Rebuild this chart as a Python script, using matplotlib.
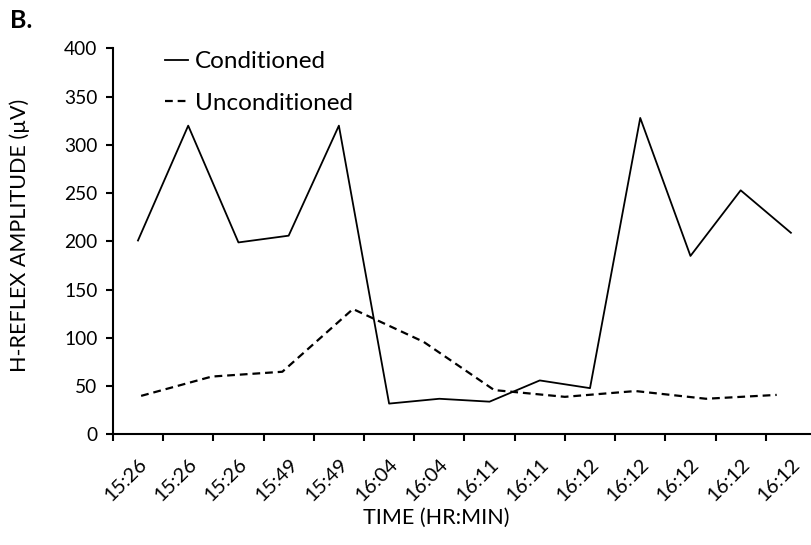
import matplotlib.pyplot as plt
import numpy as np

plt.rcParams['font.family'] = ['Lato', 'DejaVu Sans']

time_labels = ['15:26', '15:26', '15:26', '15:49', '15:49', '16:04', '16:04',
               '16:11', '16:11', '16:12', '16:12', '16:12', '16:12', '16:12']
conditioned = [201, 320, 199, 206, 320, 32, 37, 34, 56, 48, 328, 185, 253, 209]
unconditioned = [40, 60, 65, 130, 96, 46, 39, 45, 37, 41]

fig = plt.figure(figsize=(8.12, 5.45), dpi=100)
ax = fig.add_axes([0.139, 0.2028, 0.861, 0.7083])

x_cond = np.arange(len(conditioned))
line_c, = ax.plot(x_cond, conditioned, '-', color='black', lw=1.3,
                  label='Conditioned')

# second series sits on its own (hidden) category axis
ax2 = ax.twiny()
x_unc = np.arange(len(unconditioned))
line_u, = ax2.plot(x_unc, unconditioned, color='black', lw=1.6,
                   linestyle=(0, (3.5, 2.2)), label='Unconditioned')
ax2.set_xlim(-0.4, 9.5)
ax2.axis('off')

ax.set_xlim(-0.5, len(conditioned) - 0.58)
ax.set_ylim(0, 400)
ax.set_yticks(np.arange(0, 401, 50))
ax.set_xticks(np.arange(-0.5, len(conditioned) - 0.5, 1.0))
ax.set_xticklabels([])
ax.set_xticks(x_cond, minor=True)
ax.set_xticklabels(time_labels, minor=True, rotation=45, ha='right',
                   va='top', rotation_mode='anchor', fontsize=14.5)
ax.tick_params(axis='x', which='minor', length=0, pad=15)
ax.tick_params(axis='x', which='major', direction='out', length=5, width=1.5)
ax.tick_params(axis='y', direction='out', length=5, width=1.5,
               labelsize=13.8, pad=6)

for s in ['top', 'right']:
    ax.spines[s].set_visible(False)
for s in ['left', 'bottom']:
    ax.spines[s].set_linewidth(1.5)

ax.legend(handles=[line_c, line_u], loc='upper left',
          bbox_to_anchor=(0.043, 1.05), frameon=False, fontsize=17.5,
          handlelength=0.95, handletextpad=0.3, labelspacing=0.85)

fig.text(20 / 812, 1 - 235 / 545, 'H-REFLEX AMPLITUDE (µV)', rotation=90,
         ha='center', va='center', fontsize=15.5)
fig.text(436 / 812, 1 - 518 / 545, 'TIME (HR:MIN)', ha='center',
         va='center', fontsize=15.5)
fig.text(10 / 812, 1 - 21 / 545, 'B.', ha='left', va='center',
         fontsize=18, fontweight='bold')

fig.savefig('out.png', dpi=100)
